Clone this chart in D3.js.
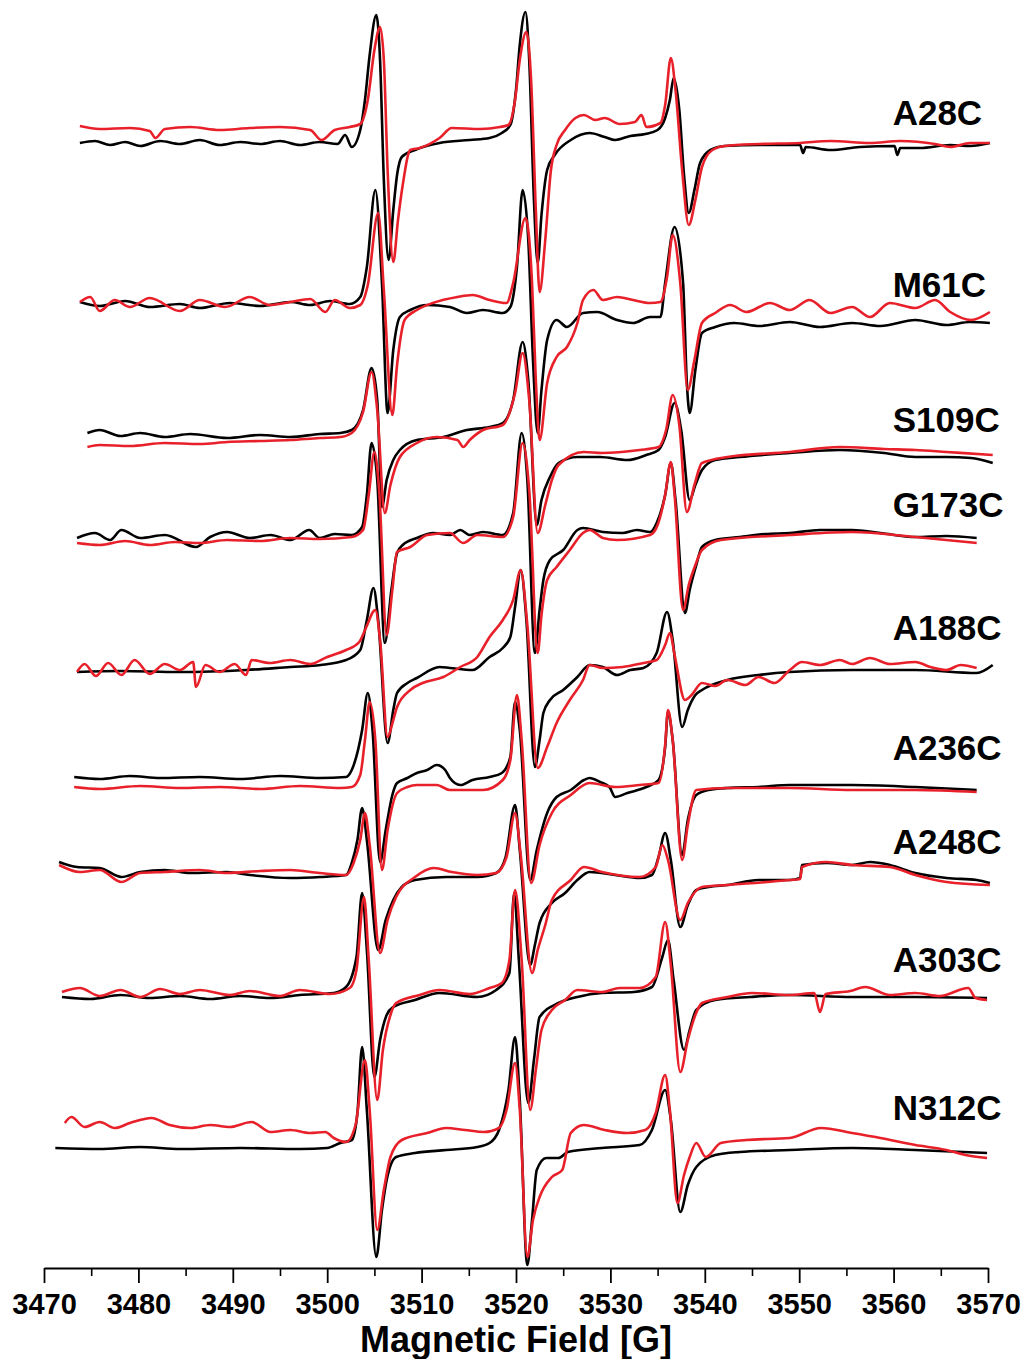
<!DOCTYPE html>
<html>
<head>
<meta charset="utf-8">
<script src="https://cdn.jsdelivr.net/npm/d3@7"></script>
<style>
  html, body { margin: 0; padding: 0; background: #fff; }
  svg { display: block; }
  text { font-family: "Liberation Sans", Arial, sans-serif; font-weight: bold; fill: #000; }
</style>
</head>
<body>
<svg id="chart" width="1023" height="1359"></svg>
<script>
// ---------- data ----------
const fieldTicks = [3470, 3480, 3490, 3500, 3510, 3520, 3530, 3540, 3550, 3560, 3570];
const minorTicks = [3475, 3485, 3495, 3505, 3515, 3525, 3535, 3545, 3555, 3565];
const sampleNames = ["A28C", "M61C", "S109C", "G173C", "A188C", "A236C", "A248C", "A303C", "N312C"];
// vertical stacking offsets (a.u.) of each spectrum
const offsets = [1125, 965, 835, 730, 597, 490, 400, 271, 120];
// label vertical position (a.u.)
const labelLevels = [1155, 983, 848, 763, 640, 520, 426, 308, 160];
const labelField = 3559.9;

// each trace: [magnetic field (G), intensity (a.u.) relative to its offset]
const A28C_black = [[3473.8,0],[3475.4,2],[3477.0,-2],[3478.6,1],[3480.2,-3],[3482.3,2],[3484.4,-1],[3486.5,3],[3488.6,-2],[3490.8,1],[3492.9,-1],[3495.0,2],[3497.1,-2],[3499.2,1],[3501.1,-1],[3501.9,8],[3502.6,-4],[3503.5,13],[3504.0,43],[3504.5,88],[3505.2,128],[3505.6,83],[3506.0,-37],[3506.5,-117],[3507.0,-67],[3507.4,-32],[3507.9,-14],[3509.3,-7],[3511.9,0],[3515.1,3],[3517.2,5],[3518.5,10],[3519.4,18],[3520.0,53],[3520.4,98],[3521.0,131],[3521.4,83],[3521.9,-57],[3522.3,-120],[3522.7,-72],[3523.3,-27],[3524.1,-12],[3525.8,3],[3527.8,10],[3529.4,6],[3530.5,3],[3532.1,7],[3533.7,9],[3535.0,13],[3535.8,25],[3536.3,43],[3536.7,65],[3537.3,33],[3537.8,-32],[3538.3,-70],[3538.9,-47],[3539.5,-20],[3540.6,-7],[3542.1,-3],[3545.8,-2],[3550.1,-2],[3550.4,-10],[3550.7,-4],[3553.3,-7],[3556.4,-4],[3560.1,-3],[3560.4,-12],[3560.7,-5],[3562.8,-5],[3566.0,-2],[3568.1,-3],[3570.2,0]];
const A28C_red = [[3473.8,17],[3475.9,14],[3479.1,15],[3481.2,12],[3481.8,5],[3482.8,14],[3485.5,16],[3488.6,13],[3491.8,15],[3495.0,16],[3498.2,13],[3499.4,3],[3500.8,13],[3502.4,16],[3503.5,19],[3504.3,43],[3505.0,93],[3505.6,116],[3506.0,83],[3506.4,-27],[3507.0,-119],[3507.5,-77],[3508.0,-42],[3508.8,-7],[3509.8,-5],[3511.9,5],[3513.2,15],[3516.2,14],[3518.3,16],[3519.2,18],[3519.9,43],[3520.4,83],[3521.1,111],[3521.6,63],[3522.1,-67],[3522.5,-149],[3523.1,-97],[3523.7,-27],[3524.3,-2],[3525.2,13],[3526.3,25],[3527.2,28],[3528.4,23],[3529.4,25],[3531.0,19],[3532.6,21],[3533.3,28],[3533.8,16],[3535.3,20],[3535.8,38],[3536.4,85],[3536.9,53],[3537.6,-27],[3538.3,-82],[3539.0,-57],[3539.7,-24],[3540.8,-7],[3542.1,-3],[3545.8,-1],[3550.1,0],[3553.3,2],[3557.5,0],[3560.7,2],[3564.4,-1],[3566.0,-4],[3568.1,0],[3570.2,0]];

const M61C_black = [[3473.8,1],[3475.9,-3],[3478.6,2],[3481.2,-4],[3484.4,-1],[3486.5,-5],[3489.7,0],[3492.9,-3],[3496.1,1],[3498.2,-2],[3500.3,2],[3502.4,-1],[3503.5,6],[3504.2,36],[3505.1,113],[3505.8,20],[3506.4,-110],[3507.0,-47],[3507.7,-14],[3508.8,-7],[3510.6,-2],[3513.0,-4],[3514.8,-10],[3516.5,-7],[3518.6,-10],[3519.4,-4],[3520.1,36],[3520.7,113],[3521.3,63],[3521.8,-57],[3522.3,-130],[3522.7,-87],[3523.3,-37],[3524.3,-17],[3525.4,-24],[3527.1,-10],[3528.6,-9],[3530.7,-17],[3532.4,-20],[3534.2,-14],[3535.3,-14],[3535.8,20],[3536.8,76],[3537.7,20],[3538.1,-80],[3538.4,-110],[3539.0,-67],[3539.7,-30],[3541.1,-24],[3543.1,-20],[3545.8,-23],[3549.0,-19],[3552.2,-24],[3555.6,-20],[3558.6,-23],[3562.3,-17],[3565.6,-22],[3568.1,-19],[3570.2,-20]];
const M61C_red = [[3473.8,1],[3474.9,6],[3475.9,-8],[3477.5,3],[3479.1,-4],[3481.2,5],[3484.4,-8],[3486.5,3],[3489.2,-4],[3491.8,6],[3493.9,-2],[3496.1,1],[3498.2,4],[3499.8,-9],[3500.8,3],[3502.4,-5],[3503.5,-2],[3504.3,18],[3505.4,90],[3506.0,13],[3506.9,-112],[3507.4,-62],[3508.2,-17],[3509.5,-7],[3511.2,0],[3513.8,6],[3515.4,8],[3517.2,3],[3519.0,0],[3519.7,20],[3521.0,85],[3521.7,20],[3522.1,-77],[3522.5,-137],[3523.3,-80],[3524.3,-54],[3525.4,-44],[3526.5,-20],[3527.1,3],[3528.2,13],[3529.2,3],[3530.7,6],[3532.4,3],[3534.2,0],[3535.3,1],[3536.0,26],[3536.6,68],[3537.4,20],[3538.2,-87],[3538.9,-57],[3539.7,-20],[3541.1,-10],[3542.7,-2],[3544.4,-9],[3546.9,0],[3549.0,-7],[3551.1,3],[3553.3,-10],[3555.6,-4],[3557.5,-14],[3559.6,0],[3562.3,-5],[3564.4,3],[3566.0,-9],[3568.2,-17],[3570.2,-9]];

const S109C_black = [[3474.6,0],[3475.9,3],[3478.1,-3],[3480.2,0],[3482.8,-4],[3485.5,-1],[3489.4,-5],[3492.9,-2],[3496.1,-4],[3499.2,-1],[3501.4,0],[3502.6,3],[3503.8,23],[3504.7,65],[3505.3,33],[3505.8,-74],[3506.3,-47],[3507.0,-27],[3507.7,-17],[3509.5,-7],[3512.3,-4],[3514.8,3],[3517.2,6],[3518.6,10],[3519.7,33],[3520.7,91],[3521.3,53],[3522.2,-92],[3522.7,-67],[3523.6,-44],[3524.5,-30],[3526.5,-24],[3528.9,-24],[3531.8,-27],[3533.8,-22],[3535.1,-17],[3535.8,-4],[3536.8,30],[3537.5,3],[3538.4,-67],[3539.0,-52],[3539.7,-37],[3541.1,-27],[3543.7,-24],[3549.0,-20],[3554.3,-17],[3559.0,-20],[3562.3,-24],[3565.6,-24],[3568.2,-25],[3570.5,-30]];
const S109C_red = [[3474.6,-14],[3475.9,-12],[3479.1,-13],[3482.8,-10],[3486.5,-11],[3489.4,-9],[3492.9,-8],[3496.1,-7],[3499.2,-5],[3501.4,-4],[3502.6,0],[3503.8,21],[3504.7,61],[3505.3,23],[3506.1,-80],[3506.7,-52],[3507.7,-24],[3509.5,-10],[3511.6,-4],[3513.8,-7],[3514.4,-14],[3515.1,-7],[3516.5,3],[3518.6,8],[3519.9,40],[3520.7,80],[3521.4,33],[3522.3,-100],[3523.1,-72],[3523.8,-47],[3524.5,-32],[3527.2,-19],[3529.1,-20],[3533.1,-17],[3535.1,-14],[3535.9,3],[3536.6,38],[3537.3,8],[3538.1,-79],[3538.9,-52],[3539.7,-30],[3542.4,-24],[3549.0,-19],[3554.3,-14],[3559.0,-16],[3562.3,-17],[3565.6,-19],[3570.5,-22]];

const G173C_black = [[3473.5,0],[3475.4,5],[3477.0,-2],[3478.2,8],[3480.2,0],[3482.8,3],[3486.1,-9],[3487.6,1],[3489.4,6],[3491.8,0],[3494.0,3],[3496.1,-2],[3498.1,8],[3499.2,0],[3500.8,4],[3502.6,3],[3503.7,11],[3504.2,43],[3504.7,95],[3505.3,58],[3506.1,-105],[3506.8,-52],[3507.4,-15],[3508.0,-7],[3509.5,0],[3511.2,5],[3513.0,3],[3514.1,8],[3515.1,3],[3516.5,6],[3518.6,3],[3519.7,25],[3520.6,105],[3521.2,58],[3522.0,-115],[3522.5,-72],[3522.9,-42],[3523.6,-22],[3525.0,-12],[3526.5,8],[3527.1,10],[3529.2,6],[3531.3,5],[3532.8,8],[3534.2,6],[3534.9,15],[3535.8,43],[3536.4,75],[3536.9,38],[3537.9,-75],[3538.4,-52],[3539.1,-27],[3539.7,-9],[3541.1,-2],[3543.7,1],[3546.4,4],[3549.0,5],[3552.2,8],[3555.6,8],[3558.6,5],[3562.3,1],[3565.6,2],[3568.8,0]];
const G173C_red = [[3473.5,-5],[3475.9,-7],[3478.6,-3],[3481.2,-7],[3483.9,-4],[3486.5,-5],[3489.4,-2],[3492.9,-3],[3496.1,0],[3499.2,-1],[3502.6,1],[3503.8,8],[3504.4,43],[3505.0,86],[3505.5,48],[3506.3,-97],[3506.9,-52],[3507.4,-14],[3508.8,-9],[3510.6,3],[3513.0,5],[3514.4,-5],[3515.9,3],[3518.6,1],[3519.7,21],[3520.7,95],[3521.4,48],[3522.3,-115],[3522.7,-77],[3523.3,-42],[3524.3,-29],[3525.7,-12],[3527.1,5],[3527.8,8],[3529.2,0],[3530.7,-2],[3534.2,3],[3535.0,13],[3535.8,43],[3536.4,76],[3536.8,43],[3537.7,-72],[3538.3,-47],[3539.0,-27],[3539.7,-12],[3541.7,-2],[3549.0,3],[3555.6,6],[3562.3,1],[3568.8,-5]];

const A188C_black = [[3473.5,-1],[3478.1,0],[3484.4,-1],[3491.4,1],[3496.1,4],[3499.3,6],[3502.0,11],[3503.5,21],[3504.2,51],[3504.9,83],[3505.4,51],[3506.4,-72],[3507.0,-39],[3507.4,-22],[3508.5,-12],[3509.5,-7],[3511.9,4],[3513.0,3],[3515.4,1],[3517.2,14],[3518.6,23],[3519.4,34],[3519.9,64],[3520.5,101],[3521.1,51],[3522.0,-96],[3522.5,-69],[3522.9,-42],[3523.6,-29],[3525.0,-19],[3526.5,-6],[3527.8,6],[3529.2,4],[3530.7,-4],[3532.1,1],[3533.5,3],[3534.9,18],[3536.0,59],[3536.6,31],[3537.6,-56],[3538.2,-39],[3539.0,-24],[3539.7,-19],[3542.4,-9],[3545.7,-4],[3549.0,-1],[3555.6,1],[3562.3,1],[3568.8,-2],[3570.5,6]];
const A188C_red = [[3473.5,-1],[3474.3,7],[3475.5,-5],[3476.8,8],[3478.2,-4],[3479.6,11],[3481.2,-3],[3482.8,7],[3484.4,1],[3485.8,9],[3486.1,-16],[3487.1,6],[3488.6,-1],[3490.2,7],[3491.4,-4],[3492.0,11],[3493.9,8],[3496.1,11],[3498.2,7],[3500.0,14],[3502.0,21],[3503.4,29],[3504.1,43],[3505.1,61],[3505.6,31],[3506.4,-66],[3507.0,-49],[3507.4,-36],[3508.8,-19],[3510.1,-12],[3512.3,-6],[3514.1,4],[3515.9,14],[3517.2,34],[3518.6,51],[3519.7,71],[3520.5,101],[3521.2,46],[3522.3,-97],[3523.3,-76],[3524.3,-52],[3525.7,-29],[3527.1,-9],[3527.8,6],[3529.2,3],[3531.3,4],[3533.5,8],[3534.9,11],[3535.8,26],[3536.3,38],[3536.8,16],[3537.9,-29],[3538.6,-24],[3539.7,-12],[3541.1,-15],[3542.4,-9],[3544.3,-14],[3545.7,-6],[3547.4,-12],[3549.0,1],[3550.3,9],[3552.2,6],[3554.3,11],[3555.6,7],[3557.5,13],[3559.6,7],[3562.3,9],[3563.9,4],[3565.6,1],[3567.1,6],[3568.8,3]];

const A236C_black = [[3473.2,1],[3475.9,-1],[3479.1,2],[3482.3,0],[3486.5,1],[3490.8,-1],[3495.0,2],[3499.2,0],[3502.0,1],[3502.6,8],[3503.7,48],[3504.3,85],[3504.8,48],[3505.6,-84],[3506.2,-52],[3506.9,-17],[3507.4,-5],[3508.5,0],[3509.5,5],[3510.6,8],[3511.6,13],[3512.5,8],[3513.0,0],[3514.1,-7],[3515.4,-2],[3517.2,1],[3518.5,5],[3519.4,21],[3519.9,76],[3520.4,48],[3521.5,-102],[3522.2,-72],[3523.3,-35],[3524.3,-19],[3525.8,-12],[3527.2,-2],[3527.8,0],[3528.9,-4],[3529.9,-9],[3530.5,-19],[3531.8,-15],[3533.8,-9],[3535.1,-2],[3535.8,31],[3536.1,66],[3536.6,38],[3537.6,-77],[3538.2,-42],[3539.1,-17],[3540.4,-12],[3542.4,-10],[3545.7,-9],[3549.0,-7],[3555.6,-7],[3562.3,-9],[3568.8,-12]];
const A236C_red = [[3473.2,-9],[3475.9,-11],[3480.2,-8],[3484.4,-10],[3488.6,-9],[3492.9,-11],[3497.1,-8],[3501.4,-10],[3502.6,-9],[3503.5,3],[3504.0,38],[3504.5,76],[3505.1,38],[3505.8,-92],[3506.4,-52],[3507.4,-15],[3508.5,-9],[3509.5,-7],[3511.6,-7],[3513.0,-12],[3514.4,-12],[3516.5,-12],[3518.6,-2],[3519.4,18],[3520.1,83],[3520.6,38],[3521.6,-105],[3522.5,-67],[3523.8,-35],[3525.8,-17],[3527.8,-5],[3530.5,-9],[3533.1,-7],[3535.1,-5],[3535.8,33],[3536.1,68],[3536.6,38],[3537.6,-82],[3538.2,-47],[3539.1,-12],[3542.4,-10],[3549.0,-10],[3555.6,-12],[3562.3,-12],[3568.8,-14]];

const A248C_black = [[3471.6,6],[3473.5,1],[3475.9,0],[3478.2,-9],[3480.2,-4],[3482.8,-2],[3485.5,-5],[3489.4,-4],[3491.8,-7],[3496.1,-10],[3499.3,-9],[3502.0,-7],[3502.6,5],[3503.2,28],[3503.7,60],[3504.2,28],[3505.4,-82],[3506.2,-52],[3507.0,-32],[3507.9,-19],[3509.3,-12],[3512.6,-9],[3515.9,-9],[3517.9,-5],[3518.9,11],[3519.9,63],[3520.4,18],[3521.5,-97],[3522.0,-77],[3522.5,-55],[3523.8,-35],[3525.2,-25],[3526.5,-12],[3527.8,-4],[3530.5,-7],[3533.1,-10],[3534.4,-7],[3535.1,11],[3535.8,35],[3536.4,8],[3537.4,-59],[3538.2,-37],[3539.1,-22],[3540.4,-19],[3542.4,-17],[3545.7,-12],[3549.0,-12],[3550.1,-10],[3550.3,3],[3552.9,5],[3555.6,3],[3557.5,6],[3559.6,3],[3562.3,-5],[3565.6,-10],[3568.8,-12],[3570.2,-15]];
const A248C_red = [[3471.6,3],[3473.8,-4],[3475.9,-2],[3478.2,-14],[3480.2,-5],[3482.8,-4],[3486.5,-2],[3489.4,-5],[3492.9,-3],[3496.1,-2],[3499.2,-5],[3502.0,-7],[3502.8,5],[3503.5,28],[3504.0,55],[3504.5,23],[3505.6,-85],[3506.4,-52],[3507.3,-29],[3509.3,-9],[3511.3,0],[3513.2,-4],[3515.9,-7],[3517.9,-5],[3519.0,11],[3519.9,55],[3520.5,13],[3521.7,-105],[3522.3,-82],[3523.1,-57],[3523.8,-32],[3525.8,-12],[3527.2,1],[3529.1,-4],[3533.1,-9],[3534.8,1],[3535.5,23],[3536.1,8],[3537.4,-52],[3538.2,-35],[3539.7,-19],[3542.4,-17],[3549.0,-12],[3550.1,-11],[3550.3,1],[3552.9,6],[3555.6,3],[3559.6,1],[3562.3,-7],[3565.6,-14],[3570.2,-17]];

const A303C_black = [[3471.9,0],[3474.9,-2],[3478.1,2],[3481.2,-1],[3484.4,1],[3487.6,-2],[3490.8,1],[3493.9,-1],[3497.1,2],[3500.7,4],[3502.0,10],[3503.1,40],[3503.7,104],[3504.2,47],[3505.0,-80],[3505.6,-43],[3506.3,-18],[3507.0,-10],[3509.3,-3],[3511.9,4],[3515.9,0],[3517.9,7],[3519.3,24],[3519.8,104],[3520.3,37],[3521.3,-106],[3521.9,-63],[3522.5,-20],[3524.5,-6],[3526.5,0],[3529.1,4],[3532.5,5],[3534.4,10],[3535.5,40],[3536.1,57],[3536.7,17],[3537.8,-53],[3538.4,-33],[3539.1,-13],[3541.1,-3],[3544.8,0],[3549.0,2],[3555.6,0],[3562.3,0],[3569.9,-1]];
const A303C_red = [[3471.9,5],[3473.8,9],[3475.9,1],[3478.1,7],[3480.2,0],[3482.3,8],[3484.4,3],[3486.5,7],[3489.7,2],[3491.8,6],[3495.0,1],[3497.1,7],[3500.3,3],[3502.4,9],[3503.1,27],[3503.9,100],[3504.4,37],[3505.3,-103],[3505.9,-53],[3506.7,-18],[3507.3,-6],[3509.8,2],[3511.9,7],[3515.1,3],[3517.2,9],[3518.5,14],[3519.3,37],[3519.9,107],[3520.6,37],[3521.5,-113],[3522.1,-73],[3522.7,-33],[3523.8,-13],[3525.2,-3],[3526.5,7],[3529.1,5],[3531.0,9],[3533.1,9],[3534.8,20],[3535.8,75],[3536.4,32],[3537.4,-75],[3538.2,-43],[3539.0,-18],[3539.7,-6],[3542.4,0],[3545.0,4],[3549.0,2],[3551.6,4],[3552.2,-15],[3552.8,3],[3555.4,6],[3557.0,10],[3559.6,2],[3562.3,4],[3564.9,1],[3567.9,9],[3568.7,-1],[3569.9,-3]];

const N312C_black = [[3471.2,0],[3475.9,-1],[3480.2,1],[3484.4,-1],[3490.8,0],[3497.1,-1],[3500.0,0],[3501.4,5],[3502.6,8],[3503.2,35],[3503.7,101],[3504.2,38],[3505.2,-109],[3505.8,-62],[3506.3,-32],[3507.3,-9],[3509.3,-5],[3512.6,-2],[3515.9,1],[3517.2,5],[3518.2,18],[3519.2,58],[3519.9,111],[3520.4,48],[3521.2,-117],[3521.7,-72],[3522.2,-22],[3523.2,-10],[3524.5,-10],[3525.5,-4],[3529.1,0],[3533.1,3],[3534.4,18],[3535.8,58],[3536.4,28],[3537.4,-64],[3538.2,-37],[3539.1,-19],[3541.1,-7],[3543.7,-4],[3549.0,-2],[3555.6,0],[3562.3,-2],[3569.9,-5]];
const N312C_red = [[3472.2,25],[3472.9,31],[3474.3,21],[3475.9,26],[3477.5,20],[3479.1,25],[3481.4,30],[3483.3,23],[3485.5,20],[3487.6,23],[3489.7,21],[3492.0,26],[3494.0,16],[3496.1,18],[3498.2,15],[3499.8,16],[3500.7,10],[3502.0,6],[3503.0,23],[3504.0,88],[3504.5,38],[3505.3,-82],[3506.0,-42],[3506.7,-9],[3507.9,8],[3510.6,15],[3512.6,20],[3514.6,18],[3516.6,16],[3518.2,20],[3519.0,38],[3519.9,85],[3520.4,38],[3521.2,-109],[3521.8,-72],[3522.5,-49],[3523.8,-29],[3524.9,-22],[3525.8,15],[3527.2,23],[3529.4,18],[3531.8,15],[3533.7,18],[3534.8,35],[3535.8,73],[3536.3,38],[3537.1,-55],[3537.8,-27],[3538.4,-9],[3539.1,5],[3540.1,-9],[3541.7,5],[3544.4,8],[3549.0,10],[3552.3,20],[3555.6,15],[3558.6,10],[3562.3,3],[3565.6,-2],[3567.6,-7],[3569.9,-10]];

const blackTraces = [A28C_black, M61C_black, S109C_black, G173C_black, A188C_black, A236C_black, A248C_black, A303C_black, N312C_black];
const redTraces = [A28C_red, M61C_red, S109C_red, G173C_red, A188C_red, A236C_red, A248C_red, A303C_red, N312C_red];

// ---------- drawing ----------
const svg = d3.select("#chart");
const x = d3.scaleLinear().domain([3470, 3570]).range([44, 988]);
const y = d3.scaleLinear().domain([0, 1250]).range([1268, 18]);
const RED = "#e8202a";

const traces = svg.append("g");
sampleNames.forEach((name, i) => {
  const off = offsets[i];
  const line = d3.line()
    .x(d => x(d[0]))
    .y(d => y(off + d[1]))
    .curve(d3.curveMonotoneX);
  traces.append("path")
    .attr("d", line(blackTraces[i]))
    .attr("fill", "none")
    .attr("stroke", "#000")
    .attr("stroke-width", 2.6)
    .attr("stroke-linejoin", "round");
  traces.append("path")
    .attr("d", line(redTraces[i]))
    .attr("fill", "none")
    .attr("stroke", RED)
    .attr("stroke-width", 2.6)
    .attr("stroke-linejoin", "round");
});

// sample labels
svg.append("g").selectAll("text")
  .data(sampleNames)
  .join("text")
  .attr("x", x(labelField))
  .attr("y", (d, i) => y(labelLevels[i]))
  .attr("dy", "0.35em")
  .attr("font-size", 35)
  .text(d => d);

// axis
const axisY = y(0);
const minorAxis = svg.append("g")
  .attr("transform", `translate(0,${axisY})`)
  .call(d3.axisBottom(x).tickValues(minorTicks).tickSize(8).tickSizeOuter(0).tickFormat(""));
minorAxis.select(".domain").remove();
minorAxis.selectAll("line").attr("stroke-width", 1.6);

const majorAxis = svg.append("g")
  .attr("transform", `translate(0,${axisY})`)
  .call(d3.axisBottom(x).tickValues(fieldTicks).tickSize(15).tickSizeOuter(0).tickPadding(10).tickFormat(d3.format("d")));
majorAxis.select(".domain").attr("stroke-width", 2);
majorAxis.selectAll("line").attr("stroke-width", 1.8);
majorAxis.selectAll("text")
  .attr("font-size", 29)
  .attr("font-family", "'Liberation Sans', Arial, sans-serif")
  .attr("font-weight", "bold")
  .attr("fill", "#000");

svg.append("text")
  .attr("x", (x(3470) + x(3570)) / 2)
  .attr("y", 1352)
  .attr("text-anchor", "middle")
  .attr("font-size", 36)
  .text("Magnetic Field [G]");
</script>
</body>
</html>
